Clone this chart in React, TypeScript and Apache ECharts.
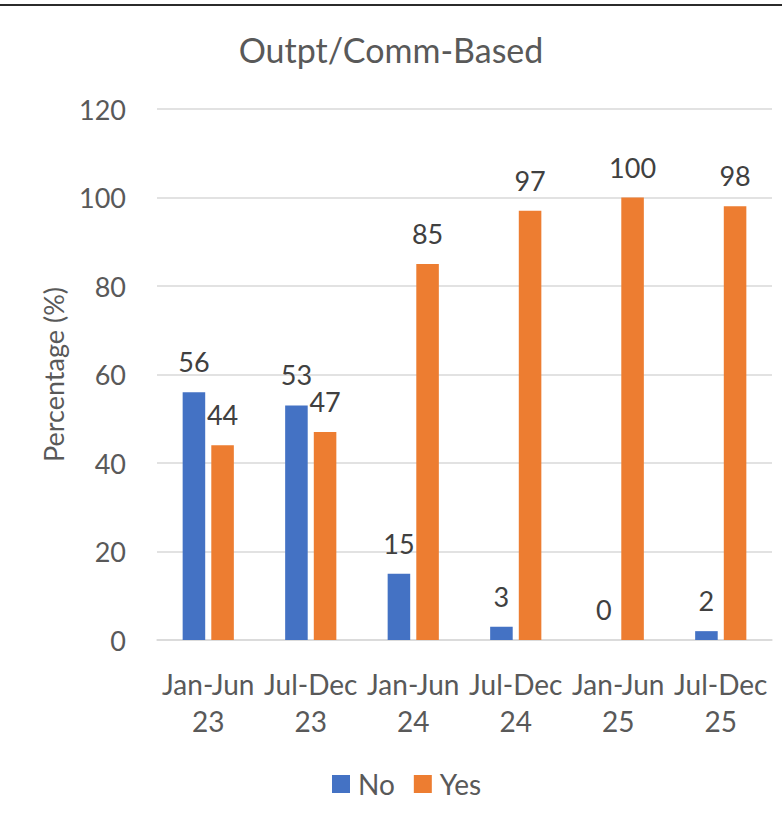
import React, { useEffect, useRef } from "react";
import * as echarts from "echarts";

const categories = ["Jan-Jun\n23", "Jul-Dec\n23", "Jan-Jun\n24", "Jul-Dec\n24", "Jan-Jun\n25", "Jul-Dec\n25"];
const noValues = [56, 53, 15, 3, 0, 2];
const yesValues = [44, 47, 85, 97, 100, 98];
const seriesNames = ["No", "Yes"];
const chartTitle = "Outpt/Comm-Based";
const yAxisTitle = "Percentage (%)";

const FONT = "Lato, 'Noto Sans', sans-serif";
const TEXT = "#595959";

export default function App() {
  const ref = useRef<HTMLDivElement>(null);
  useEffect(() => {
    document.body.style.margin = "0";
    const chart = echarts.init(ref.current!, null, { renderer: "svg" });
    const labelCfg = {
      show: true,
      position: "top" as const,
      distance: 17,
      color: "#404040",
      fontSize: 27,
      fontFamily: FONT,
    };
    chart.setOption({
      animation: false,
      backgroundColor: "#ffffff",
      textStyle: { fontFamily: FONT },
      title: {
        text: chartTitle,
        left: "center",
        top: 27,
        textStyle: { color: TEXT, fontSize: 34, fontWeight: "normal", fontFamily: FONT },
      },
      graphic: [
        {
          type: "rect",
          shape: { x: 0, y: 4, width: 782, height: 2 },
          style: { fill: "#2b2b2b" },
        },
      ],
      grid: { left: 157, right: 10, top: 109, bottom: 182, containLabel: false },
      legend: {
        data: seriesNames,
        top: 765,
        left: 327,
        itemWidth: 18,
        itemHeight: 18,
        itemGap: 19,
        icon: "rect",
        textStyle: { color: TEXT, fontSize: 28, fontFamily: FONT, padding: [0, 0, 0, 3] },
      },
      xAxis: {
        type: "category",
        data: categories,
        axisLine: { show: true, lineStyle: { color: "#d9d9d9", width: 1.5 } },
        axisTick: { show: false },
        axisLabel: {
          color: TEXT,
          fontSize: 28,
          fontFamily: FONT,
          lineHeight: 37,
          margin: 25,
          interval: 0,
        },
      },
      yAxis: {
        type: "value",
        min: 0,
        max: 120,
        interval: 20,
        name: yAxisTitle,
        nameLocation: "middle",
        nameGap: 90,
        nameTextStyle: { color: TEXT, fontSize: 27, fontFamily: FONT },
        axisLine: { show: false },
        axisTick: { show: false },
        splitLine: { lineStyle: { color: "#d9d9d9", width: 1.5 } },
        axisLabel: { color: TEXT, fontSize: 27, fontFamily: FONT, margin: 31 },
      },
      series: [
        {
          name: seriesNames[0],
          type: "bar",
          data: noValues,
          barWidth: "22%",
          barGap: "27%",
          itemStyle: { color: "#4472C4" },
          label: labelCfg,
        },
        {
          name: seriesNames[1],
          type: "bar",
          data: yesValues,
          barWidth: "22%",
          itemStyle: { color: "#ED7D31" },
          label: labelCfg,
        },
      ],
    });
    return () => chart.dispose();
  }, []);
  return (
    <div
      ref={ref}
      style={{ position: "absolute", left: 0, top: 0, width: 782, height: 822 }}
    />
  );
}
